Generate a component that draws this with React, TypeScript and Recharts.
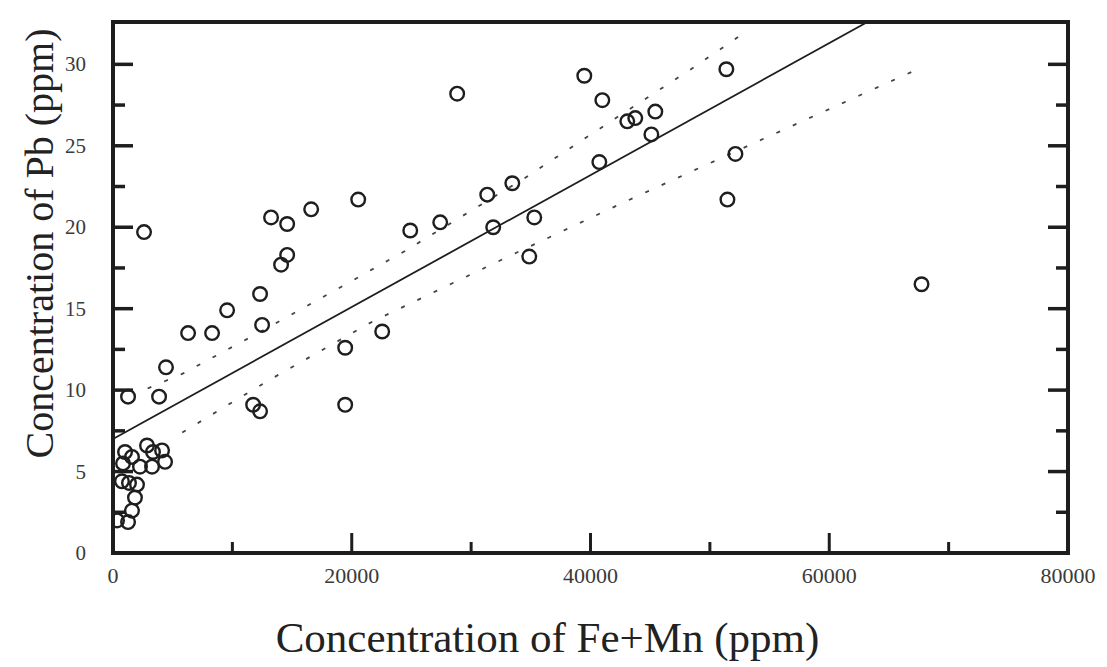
import { ScatterChart, Scatter, XAxis, YAxis, Label } from 'recharts'

// Fe+Mn (ppm) and Pb (ppm) for each sample
const feMn = [
  2600, 13240, 14590, 16600, 20540, 14590, 14080, 12320, 9560, 6290,
  8300, 12490, 4440, 1260, 3860, 11740, 12320, 19450, 19450, 22550,
  24900, 27410, 28830, 31350, 31850, 33450, 35290, 34870, 39480, 40990,
  43080, 43750, 45430, 45100, 40740, 51380, 52140, 51470, 67730,
  1010, 1590, 2850, 3350, 4110, 840, 2260, 3270, 4360, 750,
  1340, 2010, 1840, 1590, 340, 1260,
]
const pb = [
  19.7, 20.6, 20.2, 21.1, 21.7, 18.3, 17.7, 15.9, 14.9, 13.5,
  13.5, 14.0, 11.4, 9.6, 9.6, 9.1, 8.7, 9.1, 12.6, 13.6,
  19.8, 20.3, 28.2, 22.0, 20.0, 22.7, 20.6, 18.2, 29.3, 27.8,
  26.5, 26.7, 27.1, 25.7, 24.0, 29.7, 24.5, 21.7, 16.5,
  6.2, 5.9, 6.6, 6.2, 6.3, 5.5, 5.3, 5.3, 5.6, 4.4,
  4.3, 4.2, 3.4, 2.6, 2.0, 1.9,
]

// regression line and its dotted band
const fitX = [0, 63200]
const fitY = [7.0, 32.6]
const upperX = [2900, 5800, 11650, 18780, 24480, 34450, 41490, 48620, 52800]
const upperY = [10.1, 11.0, 13.3, 16.2, 18.55, 23.0, 26.4, 29.8, 31.9]
const lowerX = [5800, 13160, 21710, 33110, 43000, 54400, 67400]
const lowerY = [7.4, 10.65, 14.2, 18.2, 21.6, 25.4, 29.7]

const xTicks = [0, 10000, 20000, 30000, 40000, 50000, 60000, 70000, 80000]
const yTicks = [0, 2.5, 5, 7.5, 10, 12.5, 15, 17.5, 20, 22.5, 25, 27.5, 30]

const toPoints = (xs: number[], ys: number[]) => xs.map((x, i) => ({ x, y: ys[i] }))

const INK = '#1e1e1e'
const FONT = '"Liberation Serif", "DejaVu Serif", serif'
const AXIS_LINE = { stroke: INK, strokeWidth: 4, strokeLinecap: 'square' as const }
const BAND_LINE = { stroke: '#444', strokeWidth: 1.8, strokeDasharray: '4 14' }

const isMajorX = (v: number) => v % 20000 === 0
const isMajorY = (v: number) => v % 5 === 0

// ticks point into the plot, so each custom tick draws its own line
const LeftTick = ({ x, y, payload }: any) => {
  const major = isMajorY(payload.value)
  return (
    <g>
      <line x1={x} x2={x + (major ? 20 : 12)} y1={y} y2={y} stroke={INK} strokeWidth={3.5} />
      {major && (
        <text x={x - 27} y={y} dy={7} textAnchor="end" fontSize={21} fontFamily={FONT} fill="#3a3a3a">
          {payload.value}
        </text>
      )}
    </g>
  )
}

const RightTick = ({ x, y, payload }: any) => {
  const major = isMajorY(payload.value)
  return <line x1={x} x2={x - (major ? 20 : 12)} y1={y} y2={y} stroke={INK} strokeWidth={3.5} />
}

const BottomTick = ({ x, y, payload }: any) => {
  const major = isMajorX(payload.value)
  return (
    <g>
      <line x1={x} x2={x} y1={y} y2={y - (major ? 20 : 11)} stroke={INK} strokeWidth={3} />
      {major && (
        <text x={x} y={y + 30} textAnchor="middle" fontSize={22} fontFamily={FONT} fill="#3a3a3a">
          {payload.value}
        </text>
      )}
    </g>
  )
}

const TopTick = ({ x, y, payload }: any) => {
  const major = isMajorX(payload.value)
  return <line x1={x} x2={x} y1={y} y2={y + (major ? 20 : 12)} stroke={INK} strokeWidth={3} />
}

const Ring = ({ cx, cy }: any) => (
  <circle cx={cx} cy={cy} r={6.8} fill="none" stroke={INK} strokeWidth={2.4} />
)

const NoDot = () => <g />

export default function App() {
  return (
    <div style={{ position: 'absolute', left: 0, top: 0, background: '#fff' }}>
      <ScatterChart width={1107} height={667} margin={{ top: 21, right: 38, bottom: 0, left: 0 }}>
        <XAxis
          dataKey="x" type="number" domain={[0, 80000]} ticks={xTicks} interval={0}
          allowDataOverflow height={114} tickSize={0} tickMargin={0} tickLine={false}
          axisLine={AXIS_LINE} tick={BottomTick}
        >
          <Label
            content={({ viewBox }: any) => (
              <text
                x={viewBox.x + viewBox.width / 2 - 43} y={viewBox.y + 99}
                textAnchor="middle" fontSize={43} fontFamily={FONT} fill="#222"
              >
                Concentration of Fe+Mn (ppm)
              </text>
            )}
          />
        </XAxis>
        <YAxis
          dataKey="y" type="number" domain={[0, 32.6]} ticks={yTicks} interval={0}
          allowDataOverflow width={113} tickSize={0} tickMargin={0} tickLine={false}
          axisLine={AXIS_LINE} tick={LeftTick}
        >
          <Label
            content={({ viewBox }: any) => {
              const cx = viewBox.x + 53
              const cy = viewBox.y + viewBox.height / 2 - 44
              return (
                <text
                  x={cx} y={cy} transform={`rotate(-90 ${cx} ${cy})`}
                  textAnchor="middle" fontSize={40} fontFamily={FONT} fill="#222"
                >
                  Concentration of Pb (ppm)
                </text>
              )
            }}
          />
        </YAxis>
        <XAxis
          xAxisId="top" orientation="top" type="number" domain={[0, 80000]} ticks={xTicks}
          interval={0} allowDataOverflow height={1} tickSize={0} tickMargin={0} tickLine={false}
          axisLine={AXIS_LINE} tick={TopTick}
        />
        <YAxis
          yAxisId="right" orientation="right" type="number" domain={[0, 32.6]} ticks={yTicks}
          interval={0} allowDataOverflow width={1} tickSize={0} tickMargin={0} tickLine={false}
          axisLine={AXIS_LINE} tick={RightTick}
        />

        <Scatter data={toPoints(upperX, upperY)} shape={NoDot} isAnimationActive={false} line={BAND_LINE} />
        <Scatter data={toPoints(lowerX, lowerY)} shape={NoDot} isAnimationActive={false} line={BAND_LINE} />
        <Scatter
          data={toPoints(fitX, fitY)} shape={NoDot} isAnimationActive={false}
          line={{ stroke: INK, strokeWidth: 1.8 }}
        />
        <Scatter data={toPoints(feMn, pb)} shape={Ring} isAnimationActive={false} />
      </ScatterChart>
    </div>
  )
}
